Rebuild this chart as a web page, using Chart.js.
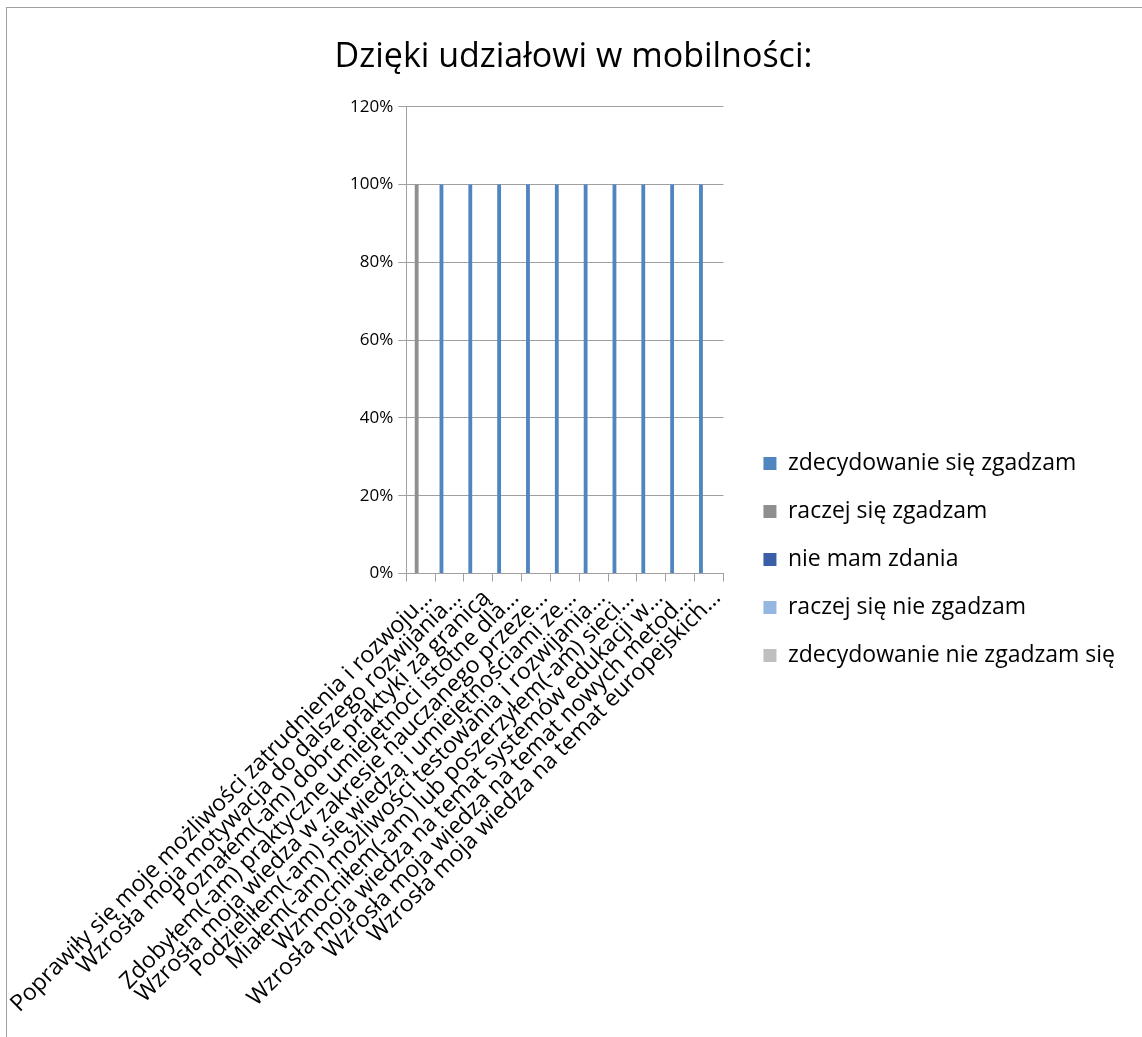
<!DOCTYPE html>
<html>
<head>
<meta charset="utf-8">
<script src="https://cdn.jsdelivr.net/npm/chart.js@4/dist/chart.umd.min.js"></script>
<style>
  html, body { margin: 0; padding: 0; background: #fff; }
  #wrap { position: relative; width: 1142px; height: 1037px; }
  #frame { position: absolute; left: 6px; top: 7px; width: 1200px; height: 1100px;
           border-top: 1px solid #a0a0a0; border-left: 1px solid #a0a0a0; }
  canvas { position: absolute; left: 0; top: 0; }
</style>
</head>
<body>
<div id="wrap">
  <div id="frame"></div>
  <canvas id="wykres" width="1142" height="1037"></canvas>
</div>
<script>
const kategorie = [
  "Poprawiły się moje możliwości zatrudnienia i rozwoju…",
  "Wzrosła moja motywacja do dalszego rozwijania…",
  "Poznałem(-am) dobre praktyki za granicą",
  "Zdobyłem(-am) praktyczne umiejętnoci istotne dla…",
  "Wzrosła moja wiedza w zakresie nauczanego przeze…",
  "Podzieliłem(-am) się wiedzą i umiejętnościami ze…",
  "Miałem(-am) możliwości testowania i rozwijania…",
  "Wzmocniłem(-am) lub poszerzyłem(-am) sieci…",
  "Wzrosła moja wiedza na temat systemów edukacji w…",
  "Wzrosła moja wiedza na temat nowych metod…",
  "Wzrosła moja wiedza na temat europejskich…"
];

const serie = ["zdecydowanie się zgadzam", "raczej się zgadzam", "nie mam zdania",
               "raczej się nie zgadzam", "zdecydowanie nie zgadzam się"];

// wartości w procentach
const zdecydowanieTak = [0, 100, 100, 100, 100, 100, 100, 100, 100, 100, 100];
const raczejTak       = [100, 0, 0, 0, 0, 0, 0, 0, 0, 0, 0];
const brakZdania      = [0, 0, 0, 0, 0, 0, 0, 0, 0, 0, 0];
const raczejNie       = [0, 0, 0, 0, 0, 0, 0, 0, 0, 0, 0];
const zdecydowanieNie = [0, 0, 0, 0, 0, 0, 0, 0, 0, 0, 0];

const osY = [0, 20, 40, 60, 80, 100, 120];

const kolory = ["#4f86c0", "#8f8f8f", "#3a5ea8", "#95b6e0", "#bfbfbf"];
const wartosci = [zdecydowanieTak, raczejTak, brakZdania, raczejNie, zdecydowanieNie];

const font = "'Open Sans', 'DejaVu Sans', sans-serif";

const ctx = document.getElementById('wykres').getContext('2d');
const chart = new Chart(ctx, {
  type: 'bar',
  data: {
    labels: kategorie,
    datasets: serie.map((nazwa, i) => ({
      label: nazwa,
      data: wartosci[i],
      backgroundColor: kolory[i],
      borderWidth: 0,
      categoryPercentage: 0.7,
      barPercentage: 0.95
    }))
  },
  options: {
    responsive: false,
    animation: false,
    layout: { padding: { top: 30, left: 22, right: 17, bottom: 16 } },
    plugins: {
      title: {
        display: true,
        text: 'Dzięki udziałowi w mobilności:',
        color: '#000',
        font: { family: font, size: 34, weight: 'normal' },
        padding: { top: 7, bottom: 29 }
      },
      legend: {
        position: 'right',
        maxWidth: 500,
        title: { display: true, text: ' ', font: { size: 10 }, padding: { top: 28, bottom: 28 } },
        labels: {
          color: '#000',
          font: { family: font, size: 23 },
          boxWidth: 13,
          boxHeight: 13,
          padding: 25
        }
      },
      tooltip: { enabled: false }
    },
    scales: {
      x: {
        grid: { display: true, drawOnChartArea: false, color: '#a0a0a0', tickLength: 8 },
        border: { color: '#a0a0a0' },
        ticks: {
          color: '#000',
          font: { family: font, size: 23 },
          autoSkip: false,
          minRotation: 45,
          maxRotation: 45,
          labelOffset: 8
        }
      },
      y: {
        min: 0,
        max: 120,
        afterBuildTicks(axis) {
          axis.ticks = osY.map(v => ({ value: v }));
        },
        grid: { color: '#a0a0a0', tickLength: 8 },
        border: { color: '#a0a0a0' },
        ticks: {
          color: '#000',
          font: { family: font, size: 17 },
          padding: 5,
          callback: v => v + '%'
        }
      },
      // pusty odstęp między wykresem a legendą
      odstep: {
        type: 'linear',
        position: 'right',
        grid: { display: false },
        border: { display: false },
        ticks: { display: false },
        afterFit(axis) { axis.width = 15; }
      }
    }
  }
});
</script>
</body>
</html>
